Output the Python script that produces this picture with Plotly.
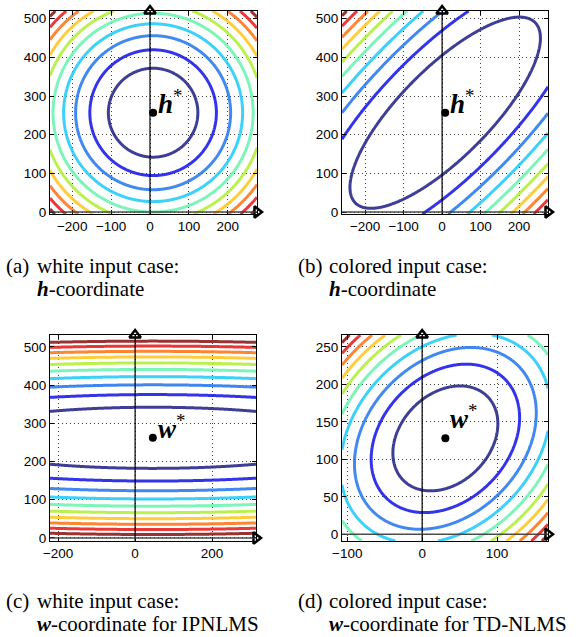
import numpy as np
import plotly.graph_objects as go

W, H = 582, 637

# ---------------- data ----------------
levels = [1, 2, 3, 4, 5, 6, 7, 8, 9, 10]
level_colors = ['rgb(42,42,140)', 'rgb(30,30,235)', 'rgb(45,125,240)', 'rgb(40,205,250)',
                'rgb(110,245,180)', 'rgb(180,240,60)', 'rgb(255,200,40)', 'rgb(255,120,30)',
                'rgb(235,35,35)', 'rgb(140,30,30)']

# optimum points
center_a = [8, 257]
center_b = [8, 257]
center_c = [46, 262]
center_d = [31, 128]

# quadratic forms [[a, b], [b, c]] (unit level = 1)
quad_a = [[1 / 115**2, 0.0], [0.0, 1 / 115**2]]
lam_u, lam_v = 1 / 330**2, 1 / 116**2
quad_b = [[(lam_u + lam_v) / 2, (lam_u - lam_v) / 2], [(lam_u - lam_v) / 2, (lam_u + lam_v) / 2]]
quad_c = [[1 / 530**2, 0.0], [0.0, 1 / 80**2]]
quad_d = [[2.21e-4, -0.28 * 2.21e-4], [-0.28 * 2.21e-4, 2.21e-4]]

# axis ranges and ticks
xrange_a, yrange_a = [-257, 275], [-5, 520]
xrange_b, yrange_b = [-260, 275], [-5, 520]
xrange_c, yrange_c = [-221, 314], [-8, 531]
xrange_d, yrange_d = [-107, 168], [-9, 266]
xticks_a = [-200, -100, 0, 100, 200]
yticks_a = [0, 100, 200, 300, 400, 500]
xticks_c = [-200, 0, 200]
yticks_d = [0, 50, 100, 150, 200, 250]
xticks_d = [-100, 0, 100]

star_labels = ['h', 'h', 'w', 'w']
captions = [('(a)', 'white input case:', '<b><i>h</i></b>-coordinate'),
            ('(b)', 'colored input case:', '<b><i>h</i></b>-coordinate'),
            ('(c)', 'white input case:', '<b><i>w</i></b>-coordinate for IPNLMS'),
            ('(d)', 'colored input case:', '<b><i>w</i></b>-coordinate for TD-NLMS')]

# ---------------- layout boxes (pixels) ----------------
boxes = [(50, 257, 11, 214), (342, 548, 11, 214), (50, 256, 335, 541), (342, 548, 335, 541)]

panels = [
    (center_a, quad_a, xrange_a, yrange_a, xticks_a, yticks_a),
    (center_b, quad_b, xrange_b, yrange_b, xticks_a, yticks_a),
    (center_c, quad_c, xrange_c, yrange_c, xticks_c, yticks_a),
    (center_d, quad_d, xrange_d, yrange_d, xticks_d, yticks_d),
]

cscale = [[(k - 1) / 9, c] for k, c in zip(levels, level_colors)]

fig = go.Figure()
layout = dict(width=W, height=H, margin=dict(l=0, r=0, t=0, b=0),
              paper_bgcolor='white', plot_bgcolor='white', showlegend=False)
shapes, annotations = [], []

tickfont = dict(family='Liberation Sans, Arial, sans-serif', size=13.5, color='black')
capfont = dict(family='Liberation Serif, Times New Roman, serif', size=21, color='black')

for i, (cen, Q, xr, yr, xt, yt) in enumerate(panels):
    n = '' if i == 0 else str(i + 1)
    xa, ya = 'x' + n, 'y' + n
    x0p, x1p, y0p, y1p = boxes[i]
    xs = np.linspace(xr[0], xr[1], 260)
    ys = np.linspace(yr[0], yr[1], 260)
    X, Y = np.meshgrid(xs, ys)
    dx, dy = X - cen[0], Y - cen[1]
    Z = Q[0][0] * dx**2 + 2 * Q[0][1] * dx * dy + Q[1][1] * dy**2
    fig.add_trace(go.Contour(x=xs, y=ys, z=Z, xaxis=xa, yaxis=ya,
                             contours=dict(start=levels[0], end=levels[-1], size=1, coloring='lines'),
                             colorscale=cscale, showscale=False, opacity=0.9,
                             line=dict(width=3, smoothing=1), hoverinfo='skip'))
    # optimum point
    fig.add_trace(go.Scatter(x=[cen[0]], y=[cen[1]], xaxis=xa, yaxis=ya, mode='markers',
                             marker=dict(size=8, color='black'), hoverinfo='skip'))
    # arrows of the coordinate axes
    fig.add_trace(go.Scatter(x=[0], y=[yr[1]], xaxis=xa, yaxis=ya, mode='markers', cliponaxis=False,
                             marker=dict(symbol='triangle-up', size=10, color='white',
                                         line=dict(color='black', width=2.5)), hoverinfo='skip'))
    fig.add_trace(go.Scatter(x=[xr[1]], y=[0], xaxis=xa, yaxis=ya, mode='markers', cliponaxis=False,
                             marker=dict(symbol='triangle-right', size=10, color='white',
                                         line=dict(color='black', width=2.5)), hoverinfo='skip'))
    shapes.append(dict(type='line', xref=xa, yref=ya + ' domain', x0=0, x1=0, y0=0, y1=1,
                       line=dict(color='black', width=1.2), layer='above'))
    shapes.append(dict(type='line', xref=xa + ' domain', yref=ya, x0=0, x1=1, y0=0, y1=0,
                       line=dict(color='rgba(60,60,60,0.9)', width=1.6), layer='above'))
    axcommon = dict(showline=True, linecolor='black', linewidth=1, mirror='ticks', ticks='inside',
                    ticklen=4, tickcolor='black', showgrid=True, gridcolor='rgba(0,0,0,0.75)',
                    griddash='1px,3px', gridwidth=1, zeroline=False, tickfont=tickfont,
                    fixedrange=True, automargin=False)
    layout['xaxis' + n] = dict(axcommon, domain=[x0p / W, x1p / W], range=xr, tickvals=xt,
                               anchor=ya)
    layout['yaxis' + n] = dict(axcommon, domain=[1 - y1p / H, 1 - y0p / H], range=yr, tickvals=yt,
                               anchor=xa)
    # star label
    yshift = 0 if i < 3 else 10
    annotations.append(dict(x=cen[0], y=cen[1], xref=xa, yref=ya, xanchor='left', yanchor='bottom',
                            text='<b><i>%s</i></b><sup>*</sup>' % star_labels[i], showarrow=False,
                            xshift=3, yshift=yshift - 8,
                            font=dict(family='Liberation Serif, Times New Roman, serif', size=27,
                                      color='black')))
    # captions
    lab, l1, l2 = captions[i]
    cx = 4 if i % 2 == 0 else 296
    cy = 266 if i < 2 else 601
    annotations.append(dict(x=cx / W, y=1 - cy / H, xref='paper', yref='paper', xanchor='left',
                            yanchor='middle', text=lab, showarrow=False, font=capfont))
    annotations.append(dict(x=(cx + 31) / W, y=1 - cy / H, xref='paper', yref='paper', xanchor='left',
                            yanchor='middle', text=l1, showarrow=False, font=capfont))
    annotations.append(dict(x=(cx + 31) / W, y=1 - (cy + 23) / H, xref='paper', yref='paper',
                            xanchor='left', yanchor='middle', text=l2, showarrow=False, font=capfont))

layout['shapes'] = shapes
layout['annotations'] = annotations
fig.update_layout(**layout)
fig.write_html('out.html', config={'displayModeBar': False},
               post_script="document.body.style.margin='0px';document.body.style.overflow='hidden';")
